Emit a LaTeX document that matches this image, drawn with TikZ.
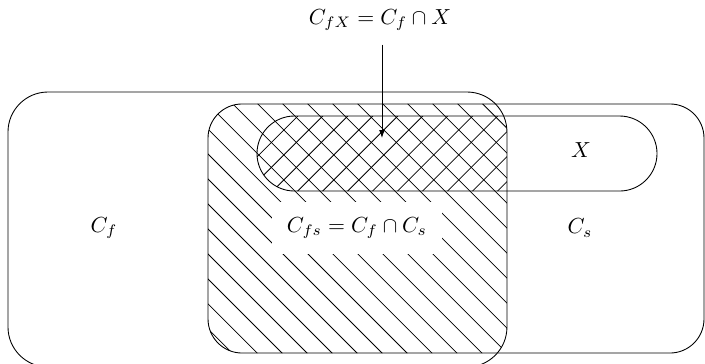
\documentclass[tikz,border=0pt]{standalone}
\usetikzlibrary{arrows.meta}
\begin{document}
\begin{tikzpicture}[
        hatch/.style={line width=0.35pt},
        label/.style={inner sep=2pt},
        >={Latex[length=3.6pt,width=2.6pt]}
    ]
        \useasboundingbox (0,0) rectangle (11.371,-5.855);
        % Hatching: C_f and C_s overlap
        \begin{scope}
            \clip[rounded corners=0.645cm] (0.129,-1.484) rectangle (8.177,-5.919);
            \clip[rounded corners=0.55cm] (3.355,-1.677) rectangle (11.355,-5.694);
            \foreach \k in {-6,...,16}
                \draw[hatch] ({0.0645+0.403*\k},0) -- ++(7,-7);
        \end{scope}
        % Cross hatching: C_f and X overlap
        \begin{scope}
            \clip[rounded corners=0.645cm] (0.129,-1.484) rectangle (8.177,-5.919);
            \clip[rounded corners=0.605cm] (4.145,-1.871) rectangle (10.597,-3.081);
            \foreach \m in {14,...,28}
                \draw[hatch] ({0.226+0.403*\m},0) -- ++(-7,-7);
        \end{scope}
        % Sets
        \draw[rounded corners=0.645cm] (0.129,-1.484) rectangle (8.177,-5.919);
        \draw[rounded corners=0.55cm] (3.355,-1.677) rectangle (11.355,-5.694);
        \draw[rounded corners=0.605cm] (4.145,-1.871) rectangle (10.597,-3.081);
        % Labels
        \node[label] (Cf) at (1.677,-3.677) {$C_f$};
        \node[label, fill=white, inner sep=7pt] (Cfs) at (5.758,-3.677) {$C_{fs} = C_f \cap C_s$};
        \node[label] (Cs) at (9.355,-3.677) {$C_s$};
        \node[label] (X) at (9.371,-2.419) {$X$};
        \node[label] (CfX) at (6.129,-0.32) {$C_{fX} = C_f \cap X$};
        \coordinate (tipX) at (6.161,-2.226);
        % Arrow into the crossed region
        \draw[->] (CfX.south -| tipX) ++(0,-0.15) -- (tipX);
    \end{tikzpicture}
\end{document}
